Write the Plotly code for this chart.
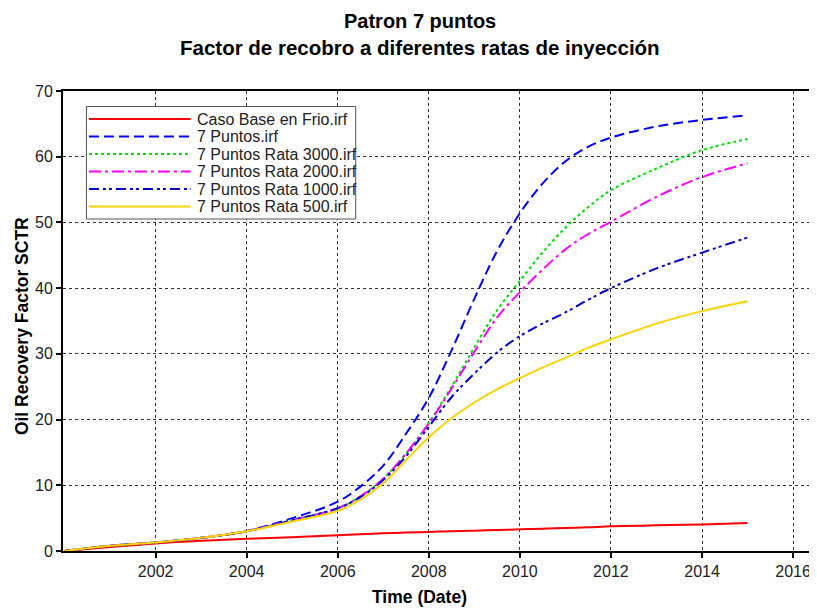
import plotly.graph_objects as go

# ---------------- data ----------------
dates = ["2000-01-01", "2001-01-01", "2002-01-01", "2003-01-01", "2004-01-01",
         "2005-01-01", "2006-01-01", "2006-07-01", "2007-01-01", "2007-07-01",
         "2008-01-01", "2008-07-01", "2009-01-01", "2009-07-01", "2010-01-01",
         "2010-07-01", "2011-01-01", "2011-07-01", "2012-01-01", "2013-01-01",
         "2014-01-01", "2015-01-01"]

caso_base = [0, 0.6, 1.15, 1.55, 1.85, 2.1, 2.4, 2.55, 2.7, 2.8, 2.9, 3.0, 3.1,
             3.2, 3.3, 3.4, 3.5, 3.6, 3.75, 3.9, 4.05, 4.25]
puntos7 = [0, 0.8, 1.3, 2.0, 3.05, 5.0, 7.5, 9.8, 13.0, 17.8, 23.3, 30.5, 38.4,
           45.6, 51.4, 55.9, 59.3, 61.5, 62.9, 64.6, 65.6, 66.3]
rata3000 = [0, 0.8, 1.3, 2.0, 3.0, 4.7, 6.5, 8.3, 11.0, 14.8, 19.5, 25.0, 31.0,
            36.6, 41.1, 45.4, 49.2, 52.3, 54.9, 58.2, 61.0, 62.7]
rata2000 = [0, 0.8, 1.3, 2.0, 3.0, 4.7, 6.5, 8.3, 11.0, 14.8, 19.4, 24.7, 30.3,
            35.5, 39.4, 42.8, 45.9, 48.2, 50.1, 53.9, 56.9, 59.0]
rata1000 = [0, 0.8, 1.3, 2.0, 3.0, 4.7, 6.5, 8.2, 10.8, 14.4, 18.9, 23.4, 27.0,
            30.2, 32.7, 34.6, 36.3, 38.2, 40.0, 43.0, 45.4, 47.7]
rata500 = [0, 0.8, 1.3, 2.0, 3.0, 4.5, 6.1, 7.8, 10.3, 13.8, 17.3, 20.2, 22.6,
           24.6, 26.3, 27.9, 29.4, 30.9, 32.2, 34.6, 36.5, 38.0]

series_names = ["Caso Base en Frio.irf", "7 Puntos.irf", "7 Puntos Rata 3000.irf",
                "7 Puntos Rata 2000.irf", "7 Puntos Rata 1000.irf", "7 Puntos Rata 500.irf"]
series_values = [caso_base, puntos7, rata3000, rata2000, rata1000, rata500]

x_tick_years = ["2002", "2004", "2006", "2008", "2010", "2012", "2014", "2016"]
y_ticks = [0, 10, 20, 30, 40, 50, 60, 70]

# ---------------- styles ----------------
colors = ["#FF0000", "#0000FF", "#00DD00", "#FF00FF", "#0000C8", "#FFD200"]
dashes = ["solid", "10px,5px", "3px,3px", "12px,4px,3px,4px",
          "10px,4px,3px,3px,3px,4px", "solid"]

fig = go.Figure()
for name, vals, c, d in zip(series_names, series_values, colors, dashes):
    fig.add_trace(go.Scatter(
        x=dates, y=vals, mode="lines", name=name,
        line=dict(color=c, width=2, dash=d, shape="spline", smoothing=1.0),
        showlegend=False))

# page body has an 8px default margin -> work in figure pixels = reference - 8
OFF = 8
FW, FH = 817 - OFF, 608 - OFF
L, R, T, B = 63 - OFF, 811 - OFF, 91 - OFF, 551 - OFF
W, H = R - L, B - T


def px(xp):
    return (xp - OFF - L) / W


def py(yp):
    return (B - (yp - OFF)) / H


shapes = [dict(type="rect", xref="paper", yref="paper",
               x0=px(86.5), x1=px(356.5), y0=py(219), y1=py(106.5),
               line=dict(color="#555555", width=1), fillcolor="white", layer="above")]
annotations = []
entry_y = [119, 136.5, 154, 171.5, 189, 206.5]
for name, c, d, ey in zip(series_names, colors, dashes, entry_y):
    shapes.append(dict(type="line", xref="paper", yref="paper",
                       x0=px(89), x1=px(191), y0=py(ey), y1=py(ey),
                       line=dict(color=c, width=2, dash=d), layer="above"))
    annotations.append(dict(xref="paper", yref="paper", x=px(195), y=py(ey),
                            text=name, showarrow=False, xanchor="left", yanchor="middle",
                            font=dict(family="Liberation Sans, Arial", size=16, color="#222222")))

# titles
annotations.append(dict(xref="paper", yref="paper", x=px(421), y=py(8.5),
                        text="<b>Patron 7 puntos</b>", showarrow=False,
                        xanchor="center", yanchor="top",
                        font=dict(family="Liberation Sans, Arial", size=20, color="black")))
annotations.append(dict(xref="paper", yref="paper", x=px(421), y=py(47),
                        text="<b>Factor de recobro a diferentes ratas de inyección</b>",
                        showarrow=False, xanchor="center", yanchor="middle",
                        font=dict(family="Liberation Sans, Arial", size=20.5, color="black")))
annotations.append(dict(xref="paper", yref="paper", x=px(420), y=py(597),
                        text="<b>Time (Date)</b>", showarrow=False,
                        xanchor="center", yanchor="middle",
                        font=dict(family="Liberation Sans, Arial", size=17.5, color="black")))
annotations.append(dict(xref="paper", yref="paper", x=px(22), y=py(326),
                        text="<b>Oil Recovery Factor SCTR</b>", showarrow=False,
                        textangle=-90, xanchor="center", yanchor="middle",
                        font=dict(family="Liberation Sans, Arial", size=17.5, color="black")))

grid_style = dict(showgrid=True, gridcolor="#333333", gridwidth=1, griddash="3px,3px")

fig.update_layout(
    width=FW, height=FH,
    margin=dict(l=L, r=FW - R, t=T, b=FH - B),
    paper_bgcolor="white", plot_bgcolor="white",
    font=dict(family="Liberation Sans, Arial", size=16, color="#222222"),
    showlegend=False,
    shapes=shapes, annotations=annotations,
    xaxis=dict(type="date", range=["1999-12-20", "2016-05-08"],
               tickvals=[y + "-01-01" for y in x_tick_years], ticktext=x_tick_years,
               ticks="outside", ticklen=5, tickwidth=2, tickcolor="black",
               showline=True, linecolor="black", linewidth=2, mirror=True,
               zeroline=False, tickfont=dict(size=16), **grid_style),
    yaxis=dict(range=[0, 70], tickvals=y_ticks,
               ticks="outside", ticklen=5, tickwidth=2, tickcolor="black",
               showline=True, linecolor="black", linewidth=2, mirror=True,
               zeroline=False, tickfont=dict(size=16), **grid_style),
)

fig.write_html("out.html")
